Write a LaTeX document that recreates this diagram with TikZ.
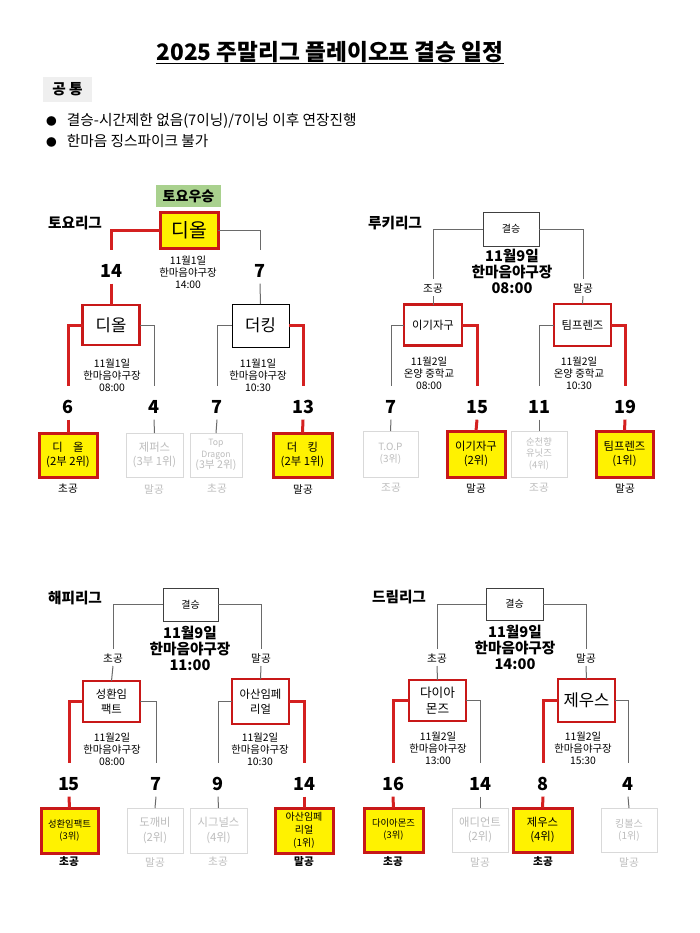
\documentclass[tikz,border=0pt]{standalone}
\usepackage{fontspec}
\setmainfont{Noto Sans CJK KR}
\newcommand\pxu{*0.75pt}
\definecolor{boxred}{HTML}{C81818}
\definecolor{linered}{HTML}{D42020}
\definecolor{darkline}{HTML}{6A6A6A}
\definecolor{boxline}{HTML}{404040}
\definecolor{fadeline}{HTML}{D9D9D9}
\definecolor{fadetext}{HTML}{BDBDBD}
\definecolor{greenbox}{HTML}{A9D18E}
\definecolor{greybox}{HTML}{EFEFEF}
\tikzset{
  every node/.style={inner sep=0pt, outer sep=0pt},
  box/.style={draw, rectangle, align=center, inner sep=0pt},
  champ/.style={box, draw=boxred, fill=yellow, line width=2.25pt, font=\fontsize{14.5}{17}\selectfont},
  semiw/.style={box, draw=boxred, fill=white, line width=2pt},
  semil/.style={box, draw=black, fill=white, line width=0.75pt},
  fin/.style={box, draw=boxline, fill=white, line width=0.75pt, font=\fontsize{7.5}{9}\selectfont},
  botw/.style={box, draw=boxred, fill=yellow, line width=2.25pt, font=\fontsize{7.5}{9}\selectfont},
  botl/.style={box, draw=fadeline, fill=white, line width=0.75pt, text=fadetext, font=\fontsize{7.5}{9}\selectfont},
  num/.style={font=\fontsize{13.5}{14}\selectfont\bfseries, anchor=base, text height=20pt, text depth=5pt},
  side/.style={font=\fontsize{8}{9}\selectfont, anchor=base, text height=9.5pt, text depth=3pt},
  when/.style={font=\fontsize{7.8}{9}\selectfont, align=center},
  bigwhen/.style={font=\fontsize{11}{12}\selectfont\bfseries, align=center},
  league/.style={font=\fontsize{11}{12}\selectfont\bfseries},
  tag/.style={font=\fontsize{8}{9}\selectfont},
  tagw/.style={tag, font=\fontsize{8}{9}\selectfont\bfseries},
  tagl/.style={tag, text=fadetext},
  rl/.style={draw=linered, line width=2.25pt},
  gl/.style={draw=darkline, line width=0.75pt},
}
\begin{document}
\begin{tikzpicture}[x=0.75pt, y=-0.75pt]
\useasboundingbox[fill=white] (0,0) rectangle (700,933);

% ---------- header ----------
\node[font=\fontsize{17}{19}\selectfont\bfseries, anchor=base] (title) at (330,60) {2025 주말리그 플레이오프 결승 일정};
\draw[line width=1pt] ([yshift=-2.5pt]title.base west) -- ([yshift=-2.5pt]title.base east);
\node[fill=greybox, minimum width=49\pxu, minimum height=25\pxu, font=\fontsize{11}{12}\selectfont\bfseries] (common) at (67.5,89.5) {공 통};
\node[anchor=west, font=\fontsize{11}{12}\selectfont] (b1) at (46,121) {{\fontsize{8}{9}\selectfont●}\hspace{0.7em}결승-시간제한 없음(7이닝)/7이닝 이후 연장진행};
\node[anchor=west, font=\fontsize{11}{12}\selectfont] (b2) at (46,141) {{\fontsize{8}{9}\selectfont●}\hspace{0.7em}한마음 징스파이크 불가};

% ---------- 토요리그 ----------
\node[league] (lg1) at (75,223) {토요리그};
\node[fill=greenbox, minimum width=65\pxu, minimum height=22\pxu, font=\fontsize{10.5}{12}\selectfont\bfseries] (win1) at (188.5,196) {토요우승};
\node[champ, minimum width=58\pxu, minimum height=36\pxu] (c1) at (189,230) {디올};
\node[num] (t14) at (111,277) {14};
\node[num] (t7) at (260,277) {7};
\node[when] (w1) at (188,272) {11월1일\\한마음야구장\\14:00};
\node[semiw, minimum width=57\pxu, minimum height=40\pxu, font=\fontsize{12.5}{14}\selectfont] (s1) at (111,325) {디올};
\node[semil, minimum width=57\pxu, minimum height=43\pxu, font=\fontsize{12.5}{14}\selectfont] (s2) at (260.5,325.5) {더킹};
\node[when] (w2) at (112,375) {11월1일\\한마음야구장\\08:00};
\node[when] (w3) at (258,375) {11월1일\\한마음야구장\\10:30};
\node[num] (n6) at (68,413) {6};
\node[num] (n4) at (154,413) {4};
\node[num] (n7) at (217,413) {7};
\node[num] (n13) at (303,413) {13};
\node[botw, minimum width=58\pxu, minimum height=44\pxu, font=\fontsize{8.5}{11}\selectfont] (bb1) at (68,455) {디\hspace{0.9em}올\\(2부 2위)};
\node[botl, minimum width=57\pxu, minimum height=44\pxu, font=\fontsize{8.5}{11}\selectfont] (bb2) at (154.5,455) {제퍼스\\(3부 1위)};
\node[botl, minimum width=52\pxu, minimum height=44\pxu, font=\fontsize{6.5}{8.5}\selectfont] (bb3) at (216,455) {Top\\Dragon\\{\fontsize{8}{8.5}\selectfont(3부 2위)}};
\node[botw, minimum width=59\pxu, minimum height=44\pxu, font=\fontsize{8.5}{11}\selectfont] (bb4) at (302.5,455) {더\hspace{0.9em}킹\\(2부 1위)};
\node[tag] (g1) at (68,489) {초공};
\node[tagl] (g2) at (154,489) {말공};
\node[tagl] (g3) at (217,489) {초공};
\node[tag] (g4) at (303,489) {말공};
\draw[rl] (c1.west) -| (t14.north);
\draw[rl] (t14.south) -- (s1.north);
\draw[gl] (c1.east) -| (t7.north);
\draw[gl] (t7.south) -- (s2.north);
\draw[rl] (s1.west) -| (n6.north);
\draw[rl] (n6.south) -- (bb1.north);
\draw[gl] (s1.east) -| (n4.north);
\draw[gl] (n4.south) -- (bb2.north);
\draw[gl] (s2.west) -| (n7.north);
\draw[gl] (n7.south) -- (bb3.north);
\draw[rl] (s2.east) -| (n13.north);
\draw[rl] (n13.south) -- (bb4.north);

% ---------- 루키리그 ----------
\node[league] (lg2) at (395,223) {루키리그};
\node[fin, minimum width=56\pxu, minimum height=34\pxu] (f2) at (511,229) {결승};
\node[side] (k1) at (433,292) {조공};
\node[side] (k2) at (583,292) {말공};
\node[bigwhen] (w4) at (512,271) {11월9일\\한마음야구장\\08:00};
\node[semiw, minimum width=58\pxu, minimum height=41\pxu, font=\fontsize{8.5}{11}\selectfont] (s3) at (433,325) {이기자구};
\node[semiw, minimum width=57\pxu, minimum height=42\pxu, font=\fontsize{8.5}{11}\selectfont] (s4) at (582.5,325) {팀프렌즈};
\node[when] (w5) at (429,373) {11월2일\\온양 중학교\\08:00};
\node[when] (w6) at (579,373) {11월2일\\온양 중학교\\10:30};
\node[num] (r7) at (391,413) {7};
\node[num] (r15) at (477,413) {15};
\node[num] (r11) at (539,413) {11};
\node[num] (r19) at (625,413) {19};
\node[botl, minimum width=55\pxu, minimum height=46\pxu] (rb1) at (390.5,454) {T.O.P\\(3위)};
\node[botw, minimum width=58\pxu, minimum height=46\pxu, font=\fontsize{8.5}{11}\selectfont] (rb2) at (476,454) {이기자구\\(2위)};
\node[botl, minimum width=56\pxu, minimum height=46\pxu, font=\fontsize{7}{8.5}\selectfont] (rb3) at (539,454) {순천향\\유닛즈\\(4위)};
\node[botw, minimum width=57\pxu, minimum height=46\pxu, font=\fontsize{8.5}{11}\selectfont] (rb4) at (624.5,454) {팀프렌즈\\(1위)};
\node[tagl] (h1) at (391,488) {조공};
\node[tag] (h2) at (476,488) {말공};
\node[tagl] (h3) at (539,488) {조공};
\node[tag] (h4) at (625,488) {말공};
\draw[gl] (f2.west) -| (k1.north);
\draw[gl] (k1.south) -- (s3.north);
\draw[gl] (f2.east) -| (k2.north);
\draw[gl] (k2.south) -- (s4.north);
\draw[gl] (s3.west) -| (r7.north);
\draw[gl] (r7.south) -- (rb1.north);
\draw[rl] (s3.east) -| (r15.north);
\draw[rl] (r15.south) -- (rb2.north);
\draw[gl] (s4.west) -| (r11.north);
\draw[gl] (r11.south) -- (rb3.north);
\draw[rl] (s4.east) -| (r19.north);
\draw[rl] (r19.south) -- (rb4.north);

% ---------- 해피리그 ----------
\node[league] (lg3) at (75,598) {해피리그};
\node[fin, minimum width=55\pxu, minimum height=33\pxu] (f3) at (190.5,604.5) {결승};
\node[side] (k3) at (113,662) {초공};
\node[side] (k4) at (261,662) {말공};
\node[bigwhen] (w7) at (190,648) {11월9일\\한마음야구장\\11:00};
\node[semiw, minimum width=57\pxu, minimum height=41\pxu, font=\fontsize{8.5}{11}\selectfont] (s5) at (111.5,701.5) {성환임\\팩트};
\node[semiw, minimum width=57\pxu, minimum height=45\pxu, font=\fontsize{8.5}{11}\selectfont] (s6) at (260.5,701.5) {아산임페\\리얼};
\node[when] (w8) at (112,749) {11월2일\\한마음야구장\\08:00};
\node[when] (w9) at (260,749) {11월2일\\한마음야구장\\10:30};
\node[num] (p15) at (69,790) {15};
\node[num] (p7) at (156,790) {7};
\node[num] (p9) at (218,790) {9};
\node[num] (p14) at (304,790) {14};
\node[botw, minimum width=57\pxu, minimum height=45\pxu, font=\fontsize{7}{9}\selectfont] (pb1) at (69.5,830.5) {성환임팩트\\(3위)};
\node[botl, minimum width=56\pxu, minimum height=45\pxu, font=\fontsize{8.5}{11}\selectfont] (pb2) at (155,830.5) {도깨비\\(2위)};
\node[botl, minimum width=57\pxu, minimum height=45\pxu, font=\fontsize{8.5}{11}\selectfont] (pb3) at (218.5,830.5) {시그널스\\(4위)};
\node[botw, minimum width=58\pxu, minimum height=45\pxu, font=\fontsize{7.5}{9.5}\selectfont] (pb4) at (304,830.5) {아산임페\\리얼\\(1위)};
\node[tagw] (q1) at (69,862) {초공};
\node[tagl] (q2) at (155,862) {말공};
\node[tagl] (q3) at (218,862) {초공};
\node[tagw] (q4) at (304,862) {말공};
\draw[gl] (f3.west) -| (k3.north);
\draw[gl] (k3.south) -- (s5.north);
\draw[gl] (f3.east) -| (k4.north);
\draw[gl] (k4.south) -- (s6.north);
\draw[rl] (s5.west) -| (p15.north);
\draw[rl] (p15.south) -- (pb1.north);
\draw[gl] (s5.east) -| (p7.north);
\draw[gl] (p7.south) -- (pb2.north);
\draw[gl] (s6.west) -| (p9.north);
\draw[gl] (p9.south) -- (pb3.north);
\draw[rl] (s6.east) -| (p14.north);
\draw[rl] (p14.south) -- (pb4.north);

% ---------- 드림리그 ----------
\node[league] (lg4) at (399,597) {드림리그};
\node[fin, minimum width=57\pxu, minimum height=32\pxu] (f4) at (514.5,604) {결승};
\node[side] (k5) at (437,662) {초공};
\node[side] (k6) at (586,662) {말공};
\node[bigwhen] (w10) at (515,647) {11월9일\\한마음야구장\\14:00};
\node[semiw, minimum width=57\pxu, minimum height=41\pxu, font=\fontsize{9.5}{11.5}\selectfont] (s7) at (437.5,700.5) {다이아\\몬즈};
\node[semiw, minimum width=57\pxu, minimum height=43\pxu, font=\fontsize{12.5}{14}\selectfont] (s8) at (586.5,700.5) {제우스};
\node[when] (w11) at (438,748) {11월2일\\한마음야구장\\13:00};
\node[when] (w12) at (583,748) {11월2일\\한마음야구장\\15:30};
\node[num] (d16) at (393,790) {16};
\node[num] (d14) at (480,790) {14};
\node[num] (d8) at (543,790) {8};
\node[num] (d4) at (628,790) {4};
\node[botw, minimum width=59\pxu, minimum height=44\pxu, font=\fontsize{7}{9}\selectfont] (db1) at (393.5,830) {다이아몬즈\\(3위)};
\node[botl, minimum width=56\pxu, minimum height=44\pxu, font=\fontsize{8.5}{11}\selectfont] (db2) at (480,830) {애디언트\\(2위)};
\node[botw, minimum width=59\pxu, minimum height=44\pxu, font=\fontsize{8.5}{11}\selectfont] (db3) at (542.5,830) {제우스\\(4위)};
\node[botl, minimum width=56\pxu, minimum height=44\pxu] (db4) at (629,830) {킹볼스\\(1위)};
\node[tagw] (e1) at (393,862) {초공};
\node[tagl] (e2) at (480,862) {말공};
\node[tagw] (e3) at (543,862) {초공};
\node[tagl] (e4) at (629,862) {말공};
\draw[gl] (f4.west) -| (k5.north);
\draw[gl] (k5.south) -- (s7.north);
\draw[gl] (f4.east) -| (k6.north);
\draw[gl] (k6.south) -- (s8.north);
\draw[rl] (s7.west) -| (d16.north);
\draw[rl] (d16.south) -- (db1.north);
\draw[gl] (s7.east) -| (d14.north);
\draw[gl] (d14.south) -- (db2.north);
\draw[rl] (s8.west) -| (d8.north);
\draw[rl] (d8.south) -- (db3.north);
\draw[gl] (s8.east) -| (d4.north);
\draw[gl] (d4.south) -- (db4.north);
\end{tikzpicture}
\end{document}
